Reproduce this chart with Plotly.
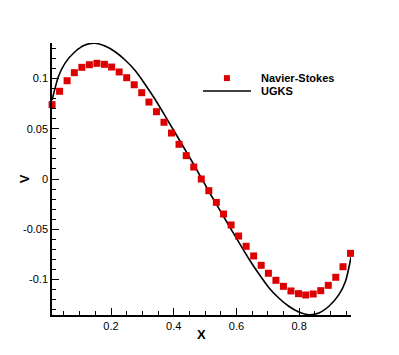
import plotly.graph_objects as go

# Navier-Stokes (red squares)
ns_x = [0.012, 0.036, 0.060, 0.083, 0.107, 0.131, 0.155, 0.179, 0.202, 0.226,
        0.250, 0.274, 0.298, 0.321, 0.345, 0.369, 0.393, 0.417, 0.440, 0.464,
        0.488, 0.512, 0.536, 0.559, 0.583, 0.607, 0.631, 0.655, 0.679, 0.702,
        0.726, 0.750, 0.774, 0.798, 0.821, 0.845, 0.869, 0.893, 0.917, 0.940,
        0.964]
ns_v = [0.0739, 0.0872, 0.0977, 0.1057, 0.1110, 0.1136, 0.1150, 0.1140, 0.1113, 0.1064,
        0.1007, 0.0937, 0.0858, 0.0765, 0.0669, 0.0564, 0.0457, 0.0345, 0.0232, 0.0119,
        0.0, -0.0116, -0.0232, -0.0348, -0.0457, -0.0567, -0.0669, -0.0765, -0.0858, -0.0937,
        -0.1007, -0.1067, -0.1113, -0.1140, -0.1153, -0.1143, -0.1110, -0.1057, -0.0977, -0.0872,
        -0.0739]

# UGKS (solid line)
ugks_x = [0.012, 0.032, 0.053, 0.085, 0.117, 0.149, 0.181, 0.213, 0.245, 0.277,
          0.308, 0.340, 0.372, 0.404, 0.436, 0.468, 0.490, 0.512, 0.544, 0.576,
          0.608, 0.640, 0.672, 0.703, 0.735, 0.767, 0.799, 0.831, 0.863, 0.895,
          0.927, 0.948, 0.966]
ugks_v = [0.0785, 0.1017, 0.1150, 0.1265, 0.1332, 0.1349, 0.1322, 0.1265, 0.1183, 0.1078,
          0.0945, 0.0795, 0.0630, 0.0462, 0.0293, 0.0122, 0.0, -0.0122, -0.0293, -0.0462,
          -0.0630, -0.0795, -0.0945, -0.1078, -0.1183, -0.1265, -0.1322, -0.1349, -0.1332, -0.1265,
          -0.1150, -0.1017, -0.0772]

x_ticks = [0.2, 0.4, 0.6, 0.8]
x_labels = ['0.2', '0.4', '0.6', '0.8']
y_ticks = [-0.1, -0.05, 0, 0.05, 0.1]
y_labels = ['-0.1', '-0.05', '0', '0.05', '0.1']

red = 'rgb(220,0,0)'
font = 'Liberation Sans, Arial, Helvetica, sans-serif'

fig = go.Figure()
fig.add_trace(go.Scatter(x=ugks_x, y=ugks_v, mode='lines', name='UGKS',
                         line=dict(color='black', width=1.6, shape='spline', smoothing=0.6)))
fig.add_trace(go.Scatter(x=ns_x, y=ns_v, mode='markers', name='Navier-Stokes',
                         marker=dict(symbol='square', size=7, color=red), cliponaxis=False))

axis_common = dict(showline=True, linecolor='black', linewidth=1.5, mirror=False,
                   ticks='inside', ticklen=7, tickwidth=1.2, tickcolor='black',
                   showgrid=False, zeroline=False,
                   tickfont=dict(family=font, size=11, color='black'))

fig.update_xaxes(range=[0.0118, 0.9655], tickvals=x_ticks, ticktext=x_labels,
                 minor=dict(dtick=0.05, tick0=0, ticks='inside', ticklen=4,
                            tickwidth=1, tickcolor='black'),
                 **axis_common)
fig.update_yaxes(range=[-0.1352, 0.1352], tickvals=y_ticks, ticktext=y_labels,
                 minor=dict(dtick=0.01, tick0=0, ticks='inside', ticklen=4,
                            tickwidth=1, tickcolor='black'),
                 **axis_common)

# legend drawn by hand to match the original layout
fig.add_shape(type='line', xref='paper', yref='paper', x0=0.505, x1=0.6656,
              y0=0.8235, y1=0.8235, line=dict(color='black', width=1.6))
fig.add_shape(type='rect', xref='paper', yref='paper', x0=0.575, x1=0.595,
              y0=0.860, y1=0.882, fillcolor=red, line=dict(width=0))
fig.add_annotation(text='<b>Navier-Stokes</b>', xref='paper', yref='paper',
                   x=0.692, y=0.871, xanchor='left', yanchor='middle', showarrow=False,
                   font=dict(family=font, size=11, color='black'))
fig.add_annotation(text='<b>UGKS</b>', xref='paper', yref='paper',
                   x=0.692, y=0.8235, xanchor='left', yanchor='middle', showarrow=False,
                   font=dict(family=font, size=11, color='black'))

# axis titles
fig.add_annotation(text='<b>X</b>', xref='paper', yref='paper', x=0.5, y=-0.07,
                   xanchor='center', yanchor='middle', showarrow=False,
                   font=dict(family=font, size=13, color='black'))
fig.add_annotation(text='<b>V</b>', xref='paper', yref='paper', x=-0.093, y=0.5,
                   xanchor='center', yanchor='middle', showarrow=False, textangle=-90,
                   font=dict(family=font, size=13, color='black'))

# page has an 8px body margin, so the figure is shrunk by that amount
fig.update_layout(width=391, height=347, showlegend=False,
                  margin=dict(l=44, r=48, t=35, b=40),
                  paper_bgcolor='white', plot_bgcolor='white')

fig.write_html("out.html")
